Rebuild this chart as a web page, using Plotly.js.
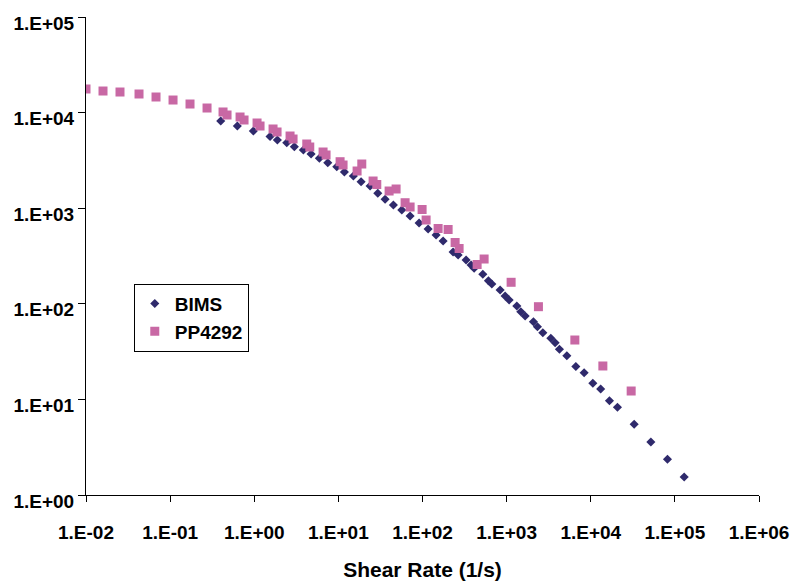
<!DOCTYPE html>
<html>
<head>
<meta charset="utf-8">
<script src="https://cdn.plot.ly/plotly-3.0.1.min.js"></script>
<style>
  html, body { margin: 0; padding: 0; background: #ffffff; }
  #chart { width: 791px; height: 581px; }
</style>
</head>
<body>
<div id="chart"></div>
<script>
// Viscosity vs shear rate, two materials (log-log)
const bimsRate = [0.3996, 0.6295, 0.9757, 1.541, 1.883, 2.435, 2.998, 3.836, 4.736, 5.943,
  7.482, 9.572, 11.79, 15.08, 18.62, 23.82, 29.41, 35.93, 45.08, 56.75,
  71.24, 91.11, 116.6, 145.1, 175.8, 231.1, 265.0, 329.8, 378.3, 410.8,
  521.2, 607.6, 666.8, 836.9, 959.8, 1071, 1322, 1475, 1660, 2083,
  2324, 2694, 3354, 3773, 4244, 5197, 6650, 8346, 10590, 13120,
  16690, 20770, 32820, 51830, 81660, 129000];
const bimsVisc = [8167, 7239, 6418, 5623, 5169, 4843, 4398, 4062, 3689, 3327,
  2991, 2718, 2391, 2172, 1893, 1707, 1432, 1239, 1080, 957.6,
  828.5, 700.2, 605.9, 524.4, 453.8, 348.2, 323.9, 287.2, 254.6, 235.1,
  203.5, 174.4, 161.1, 139.4, 120.7, 109.6, 94.84, 82.67, 74.55, 65.00,
  57.61, 49.86, 43.56, 39.18, 33.43, 28.65, 22.09, 19.03, 14.74, 12.85,
  9.692, 8.268, 5.489, 3.584, 2.362, 1.543];

const ppRate = [0.01, 0.01593, 0.02536, 0.04268, 0.06797, 0.1083, 0.1724, 0.2747, 0.4256, 0.4749,
  0.6781, 0.7564, 1.080, 1.172, 1.673, 1.867, 2.665, 2.893, 4.210, 4.570,
  6.578, 7.140, 10.48, 11.37, 16.69, 18.98, 25.86, 28.62, 40.09, 48.55,
  62.11, 71.24, 98.9, 110.4, 153.3, 201.6, 244.2, 272.4, 445.9, 540.1,
  1131, 2388, 6471, 13930, 30230];
const ppVisc = [17660, 16820, 16420, 15650, 14560, 13540, 12300, 11170, 10150, 9438,
  8995, 8367, 7785, 7239, 6739, 6268, 5690, 5293, 4694, 4367,
  3871, 3602, 3065, 2830, 2450, 2899, 1925, 1770, 1513, 1588,
  1141, 1029, 969, 752.6, 613.5, 598.7, 437.7, 378.8, 257.7, 294.1,
  167.9, 93.27, 41.81, 22.36, 12.24];

const xTickVals = [1e-2, 1e-1, 1e0, 1e1, 1e2, 1e3, 1e4, 1e5, 1e6];
const xTickText = ['1.E-02', '1.E-01', '1.E+00', '1.E+01', '1.E+02', '1.E+03', '1.E+04', '1.E+05', '1.E+06'];
const yTickVals = [1e0, 1e1, 1e2, 1e3, 1e4, 1e5];
const yTickText = ['1.E+00', '1.E+01', '1.E+02', '1.E+03', '1.E+04', '1.E+05'];

const fontFamily = 'Arial, "Liberation Sans", sans-serif';

const traces = [
  {
    x: bimsRate, y: bimsVisc, name: 'BIMS', type: 'scatter', mode: 'markers',
    marker: { symbol: 'diamond', size: 7, color: '#2f2a6c' }
  },
  {
    x: ppRate, y: ppVisc, name: 'PP4292', type: 'scatter', mode: 'markers',
    marker: { symbol: 'square', size: 9, color: '#c868a4' }
  }
];

const layout = {
  width: 791, height: 581,
  margin: { l: 86, r: 32, t: 17, b: 86 },
  paper_bgcolor: '#ffffff', plot_bgcolor: '#ffffff',
  font: { family: fontFamily, size: 19, color: '#000000', weight: 'bold' },
  showlegend: true,
  legend: {
    x: 0.071, y: 0.442, xanchor: 'left', yanchor: 'top',
    bgcolor: '#ffffff', bordercolor: '#000000', borderwidth: 1,
    font: { family: fontFamily, size: 19, color: '#000000', weight: 'bold' },
    itemwidth: 30, tracegroupgap: 0
  },
  xaxis: {
    type: 'log', range: [-2, 6],
    tickmode: 'array', tickvals: xTickVals, ticktext: xTickText,
    ticks: 'outside', ticklen: 6, tickwidth: 1, tickcolor: '#000000',
    ticklabelstandoff: 14,
    showline: true, linecolor: '#000000', linewidth: 1,
    showgrid: false, zeroline: false, mirror: false,
    tickfont: { family: fontFamily, size: 19, color: '#000000', weight: 'bold' },
    title: {
      text: 'Shear Rate (1/s)', standoff: 20,
      font: { family: fontFamily, size: 21, color: '#000000', weight: 'bold' }
    }
  },
  yaxis: {
    type: 'log', range: [0, 5],
    tickmode: 'array', tickvals: yTickVals, ticktext: yTickText,
    ticks: 'outside', ticklen: 7, tickwidth: 1, tickcolor: '#000000',
    ticklabelshift: 6,
    showline: true, linecolor: '#000000', linewidth: 1,
    showgrid: false, zeroline: false, mirror: false,
    tickfont: { family: fontFamily, size: 19, color: '#000000', weight: 'bold' }
  }
};

Plotly.newPlot('chart', traces, layout, { displayModeBar: false, staticPlot: true });
</script>
</body>
</html>
